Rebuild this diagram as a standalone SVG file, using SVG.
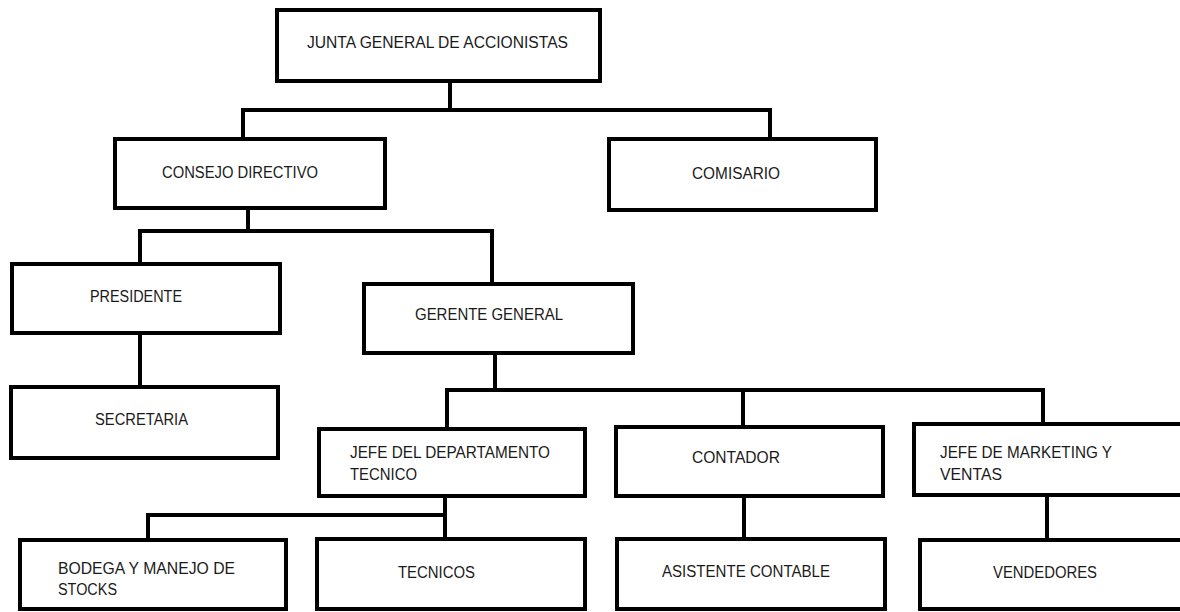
<svg xmlns="http://www.w3.org/2000/svg" width="1180" height="612" viewBox="0 0 1180 612">
<style>
.box{fill:#fff;stroke:#000;stroke-width:4}
.lbl{font-family:"Liberation Sans",Arial,sans-serif;font-size:16px;fill:#1a1a1a}
.con{fill:none;stroke:#000;stroke-width:4;stroke-linecap:square}
</style>
<rect width="1180" height="612" fill="#fff"/>
<g id="connectors">
<path class="con" d="M450 83V110M243 110H770M243 110V137M770 110V137"/>
<path class="con" d="M248 210V231M140 231H492M140 231V262M492 231V282"/>
<path class="con" d="M140 335V385"/>
<path class="con" d="M495 355V390M447 390H1043M447 390V427M743 390V425M1043 390V422"/>
<path class="con" d="M445 498V515M148 515H445M148 515V538M445 515V537"/>
<path class="con" d="M744 498V537"/>
<path class="con" d="M1047 497V538"/>
</g>
<g id="junta"><rect class="box" x="277" y="10" width="323" height="71"/><text class="lbl" x="307" y="48" textLength="261" lengthAdjust="spacingAndGlyphs">JUNTA GENERAL DE ACCIONISTAS</text></g>
<g id="consejo"><rect class="box" x="115" y="139" width="270" height="69"/><text class="lbl" x="162" y="178" textLength="156" lengthAdjust="spacingAndGlyphs">CONSEJO DIRECTIVO</text></g>
<g id="comisario"><rect class="box" x="609" y="139" width="267" height="71"/><text class="lbl" x="692" y="179" textLength="88" lengthAdjust="spacingAndGlyphs">COMISARIO</text></g>
<g id="presidente"><rect class="box" x="12" y="264" width="268" height="69"/><text class="lbl" x="90" y="302" textLength="92" lengthAdjust="spacingAndGlyphs">PRESIDENTE</text></g>
<g id="secretaria"><rect class="box" x="11" y="387" width="267" height="71"/><text class="lbl" x="95" y="425" textLength="93" lengthAdjust="spacingAndGlyphs">SECRETARIA</text></g>
<g id="gerente"><rect class="box" x="364" y="284" width="269" height="69"/><text class="lbl" x="415" y="320" textLength="148" lengthAdjust="spacingAndGlyphs">GERENTE GENERAL</text></g>
<g id="jefe-tecnico"><rect class="box" x="319" y="429" width="266" height="67"/><text class="lbl" x="350" y="458" textLength="200" lengthAdjust="spacingAndGlyphs">JEFE DEL DEPARTAMENTO</text><text class="lbl" x="350" y="480" textLength="67" lengthAdjust="spacingAndGlyphs">TECNICO</text></g>
<g id="contador"><rect class="box" x="616" y="427" width="267" height="69"/><text class="lbl" x="692" y="463" textLength="88" lengthAdjust="spacingAndGlyphs">CONTADOR</text></g>
<g id="jefe-marketing"><rect class="box" x="914" y="424" width="280" height="71"/><text class="lbl" x="940" y="458" textLength="172" lengthAdjust="spacingAndGlyphs">JEFE DE MARKETING Y</text><text class="lbl" x="940" y="480" textLength="62" lengthAdjust="spacingAndGlyphs">VENTAS</text></g>
<g id="bodega"><rect class="box" x="20" y="540" width="266" height="69"/><text class="lbl" x="58" y="574" textLength="177" lengthAdjust="spacingAndGlyphs">BODEGA Y MANEJO DE</text><text class="lbl" x="58" y="595" textLength="59" lengthAdjust="spacingAndGlyphs">STOCKS</text></g>
<g id="tecnicos"><rect class="box" x="317" y="539" width="268" height="70"/><text class="lbl" x="398" y="578" textLength="77" lengthAdjust="spacingAndGlyphs">TECNICOS</text></g>
<g id="asistente"><rect class="box" x="617" y="539" width="268" height="70"/><text class="lbl" x="662" y="577" textLength="168" lengthAdjust="spacingAndGlyphs">ASISTENTE CONTABLE</text></g>
<g id="vendedores"><rect class="box" x="920" y="540" width="274" height="69"/><text class="lbl" x="993" y="578" textLength="104" lengthAdjust="spacingAndGlyphs">VENDEDORES</text></g>
</svg>
